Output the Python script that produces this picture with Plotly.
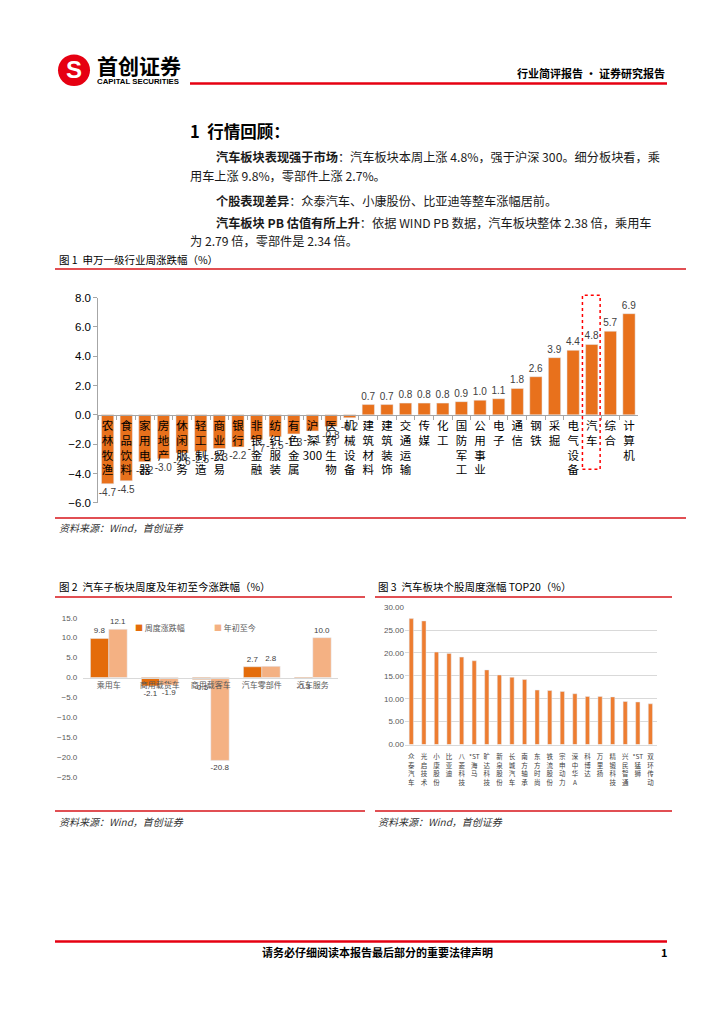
import plotly.graph_objects as go

# ---------------- data ----------------
ind_names = ["农林牧渔", "食品饮料", "家用电器", "房地产", "休闲服务", "轻工制造", "商业贸易", "银行",
             "非银金融", "纺织服装", "有色金属", "沪深300", "医药生物", "机械设备", "建筑材料", "建筑装饰",
             "交通运输", "传媒", "化工", "国防军工", "公用事业", "电子", "通信", "钢铁", "采掘",
             "电气设备", "汽车", "综合", "计算机"]
ind_values = [-4.7, -4.5, -3.2, -3.0, -2.6, -2.5, -2.3, -2.2, -1.7, -1.5, -1.3, -1.1, -0.8, -0.2,
              0.7, 0.7, 0.8, 0.8, 0.8, 0.9, 1.0, 1.1, 1.8, 2.6, 3.9, 4.4, 4.8, 5.7, 6.9]
highlight_name = "汽车"
ind_yticks = [-6, -4, -2, 0, 2, 4, 6, 8]

sub_names = ["乘用车", "商用载货车", "商用载客车", "汽车零部件", "汽车服务"]
sub_week = [9.8, -2.1, -0.5, 2.7, -0.3]
sub_ytd = [12.1, -1.9, -20.8, 2.8, 10.0]
sub_series = ["周度涨跌幅", "年初至今"]
sub_yticks = [-25, -20, -15, -10, -5, 0, 5, 10, 15]

stock_names = ["众泰汽车", "光启技术", "小康股份", "比亚迪", "八菱科技", "*ST海马", "旷达科技", "新泉股份",
               "长城汽车", "南方轴承", "东方时尚", "铁流股份", "宗申动力", "深中华A", "科博达", "万里扬",
               "精锻科技", "兴民智通", "*ST猛狮", "双环传动"]
stock_values = [27.5, 27.0, 20.2, 19.9, 19.1, 18.3, 16.3, 15.2, 14.7, 14.2, 11.9, 11.8, 11.6, 11.1,
                10.5, 10.5, 10.4, 9.4, 9.3, 8.9]
stock_yticks = [0, 5, 10, 15, 20, 25, 30]

# ---------------- helpers ----------------
W, H = 724, 1024
CJK = "Noto Sans CJK SC"
LAT = "Liberation Sans"


def px(x):
    return x / W


def py(y):
    return 1 - y / H


def stack(name):
    parts = []
    i = 0
    while i < len(name):
        if name[i:i + 3] in ("*ST", "300"):
            parts.append(name[i:i + 3])
            i += 3
        else:
            parts.append(name[i])
            i += 1
    return "<br>".join(parts)


ORANGE = "#E8711C"
DARK = "#E46C0A"
LIGHT = "#F4B183"
RED = "#D7141A"

fig = go.Figure()

# ---------------- chart 1 ----------------
ind_x = [stack(n) for n in ind_names]
fig.add_trace(go.Bar(
    x=ind_x, y=ind_values, marker_color=ORANGE, width=0.66,
    texttemplate="%{y:.1f}", textposition="outside", constraintext="none", cliponaxis=False,
    textfont=dict(size=10, color="#404040", family=LAT), showlegend=False,
    xaxis="x", yaxis="y", hoverinfo="skip"))

c1_dom_y = [py(502.7), py(295)]
c1_range = [-6, 8]
c1_zero = c1_dom_y[0] + (0 - c1_range[0]) / (c1_range[1] - c1_range[0]) * (c1_dom_y[1] - c1_dom_y[0])

# ---------------- chart 2 ----------------
fig.add_trace(go.Bar(
    x=sub_names, y=sub_week, name=sub_series[0], marker_color=DARK, width=0.36, offset=-0.36,
    texttemplate="%{y:.1f}", textposition="outside", constraintext="none", cliponaxis=False,
    textfont=dict(size=8, color="#404040", family=LAT), xaxis="x2", yaxis="y2", hoverinfo="skip",
    showlegend=False))
fig.add_trace(go.Bar(
    x=sub_names, y=sub_ytd, name=sub_series[1], marker_color=LIGHT, width=0.36, offset=0,
    texttemplate="%{y:.1f}", textposition="outside", constraintext="none", cliponaxis=False,
    textfont=dict(size=8, color="#404040", family=LAT), xaxis="x2", yaxis="y2", hoverinfo="skip",
    showlegend=False))

c2_dom_y = [py(780.3), py(619)]
c2_range = [-25, 15]
c2_zero = c2_dom_y[0] + (0 - c2_range[0]) / (c2_range[1] - c2_range[0]) * (c2_dom_y[1] - c2_dom_y[0])

# ---------------- chart 3 ----------------
fig.add_trace(go.Bar(
    x=[stack(n) for n in stock_names], y=stock_values, marker_color="#ED7D31", width=0.34,
    showlegend=False, xaxis="x3", yaxis="y3", hoverinfo="skip"))

fig.update_layout(
    width=W, height=H, margin=dict(l=0, r=0, t=0, b=0),
    paper_bgcolor="white", plot_bgcolor="rgba(0,0,0,0)",
    font=dict(family=CJK, color="#000000"),
    barmode="overlay", showlegend=False,
    xaxis=dict(domain=[px(98.3), px(638.3)], anchor="free", position=c1_zero,
               range=[-0.5, len(ind_names) - 0.5], showline=True, linecolor="#A6A6A6", linewidth=1,
               ticks="outside", tickson="boundaries", ticklen=4, tickcolor="#A6A6A6",
               tickfont=dict(size=11.5, family=CJK, color="#000000"), tickangle=0, showgrid=False,
               zeroline=False, fixedrange=True),
    yaxis=dict(domain=c1_dom_y, anchor="x", range=c1_range, tickmode="array", tickvals=ind_yticks,
               tickformat=".1f", showline=True, linecolor="#A6A6A6", ticks="outside", ticklen=4,
               tickcolor="#A6A6A6", tickfont=dict(size=11.5, family=LAT, color="#000000"),
               showgrid=False, zeroline=False),
    xaxis2=dict(domain=[px(83.3), px(338.3)], anchor="free", position=c2_zero,
                range=[-0.5, len(sub_names) - 0.5], showline=True, linecolor="#D9D9D9", ticks="",
                tickfont=dict(size=8, family=CJK, color="#595959"), tickangle=0, showgrid=False,
                zeroline=False),
    yaxis2=dict(domain=c2_dom_y, anchor="x2", range=c2_range, tickmode="array", tickvals=sub_yticks,
                tickformat=".1f", showline=False, ticks="", showgrid=False, zeroline=False,
                ticklabelstandoff=5, tickfont=dict(size=8, family=LAT, color="#595959")),
    xaxis3=dict(domain=[px(405), px(656.7)], anchor="y3", range=[-0.5, len(stock_names) - 0.5],
                showline=True, linecolor="#D9D9D9", ticks="", tickangle=0, ticklabelstandoff=6,
                tickfont=dict(size=6.5, family=CJK, color="#404040"), showgrid=False, zeroline=False),
    yaxis3=dict(domain=[py(747.3), py(608.3)], anchor="x3", range=[0, 30], tickmode="array",
                tickvals=stock_yticks, tickformat=".2f", showline=False, ticks="", showgrid=True,
                gridcolor="#D9D9D9", zeroline=False, tickfont=dict(size=8, family=LAT, color="#595959")),
)

# ---------------- shapes ----------------
shapes = []


def hline(x0, x1, y, color=RED, width=1.5):
    shapes.append(dict(type="line", xref="paper", yref="paper", x0=px(x0), x1=px(x1), y0=py(y), y1=py(y),
                       line=dict(color=color, width=width)))


hline(190, 667, 78.5, color="#E60012", width=2.5)      # header
hline(55, 686, 266)                                       # fig1 top
hline(55, 686, 518)                                       # fig1 bottom
hline(55, 365, 598)                                       # fig2 top
hline(55, 365, 814.5)                                     # fig2 bottom
hline(375, 672, 598)                                      # fig3 top
hline(375, 672, 814.5)                                    # fig3 bottom
hline(55, 667, 946.5, color="#E60012", width=2.5)        # footer

# logo
shapes.append(dict(type="circle", xref="paper", yref="paper", x0=px(58), x1=px(90), y0=py(81), y1=py(49),
                   fillcolor="#E60012", line=dict(width=0)))

# highlight box around 汽车
hi = ind_names.index(highlight_name)
shapes.append(dict(type="rect", xref="x", yref="paper", x0=hi - 0.5, x1=hi + 0.45,
                   y0=py(468.7), y1=py(292.7), line=dict(color="#FF0000", width=1.5, dash="dot"),
                   fillcolor="rgba(0,0,0,0)"))
fig.update_layout(shapes=shapes)

# ---------------- text ----------------
ann = []


def text(x, y, s, size, color="#000000", family=CJK, xanchor="left"):
    ann.append(dict(xref="paper", yref="paper", x=px(x), y=py(y), text=s, showarrow=False,
                    xanchor=xanchor, yanchor="middle", font=dict(size=size, color=color, family=family)))


text(74, 64, "<b>S</b>", 24, color="white", family=LAT, xanchor="center")
text(95, 59.5, "<b>首创证券</b>", 21)
text(95, 76, "<b>CAPITAL SECURITIES</b>", 7.8, family=LAT)
text(667, 68, "<b>行业简评报告 · 证券研究报告</b>", 11, xanchor="right")

text(188, 126, "<b>1  行情回顾：</b>", 16.5)
body = "#1a1a1a"
text(214, 152.5, "<b>汽车板块表现强于市场</b>：汽车板块本周上涨 4.8%，强于沪深 300。细分板块看，乘", 12.2, body)
text(188, 172, "用车上涨 9.8%，零部件上涨 2.7%。", 12.2, body)
text(214, 197, "<b>个股表现差异</b>：众泰汽车、小康股份、比亚迪等整车涨幅居前。", 12.2, body)
text(214, 219.5, "<b>汽车板块 PB 估值有所上升</b>：依据 WIND PB 数据，汽车板块整体 2.38 倍，乘用车", 12.2, body)
text(188, 237.5, "为 2.79 倍，零部件是 2.34 倍。", 12.2, body)

text(57, 256, "图 1  申万一级行业周涨跌幅（%）", 10.5)
text(57, 528, "<i>资料来源：Wind，首创证券</i>", 10, "#333333")
text(57, 587, "图 2  汽车子板块周度及年初至今涨跌幅（%）", 10.5)
text(57, 825, "<i>资料来源：Wind，首创证券</i>", 10, "#333333")
text(376, 587, "图 3  汽车板块个股周度涨幅 TOP20（%）", 10.5)
text(376, 825, "<i>资料来源：Wind，首创证券</i>", 10, "#333333")

# legend of chart 2
text(133, 628.5, "<span style='color:%s'>■</span> %s" % (DARK, sub_series[0]), 8, "#595959")
text(212, 628.5, "<span style='color:%s'>■</span> %s" % (LIGHT, sub_series[1]), 8, "#595959")

text(260, 957, "<b>请务必仔细阅读本报告最后部分的重要法律声明</b>", 11)
text(670, 957, "<b>1</b>", 11, xanchor="right")

fig.update_layout(annotations=ann)

fig.write_html("out.html", config={"displayModeBar": False},
               post_script="document.body.style.margin='0px';document.body.style.overflow='hidden';")
